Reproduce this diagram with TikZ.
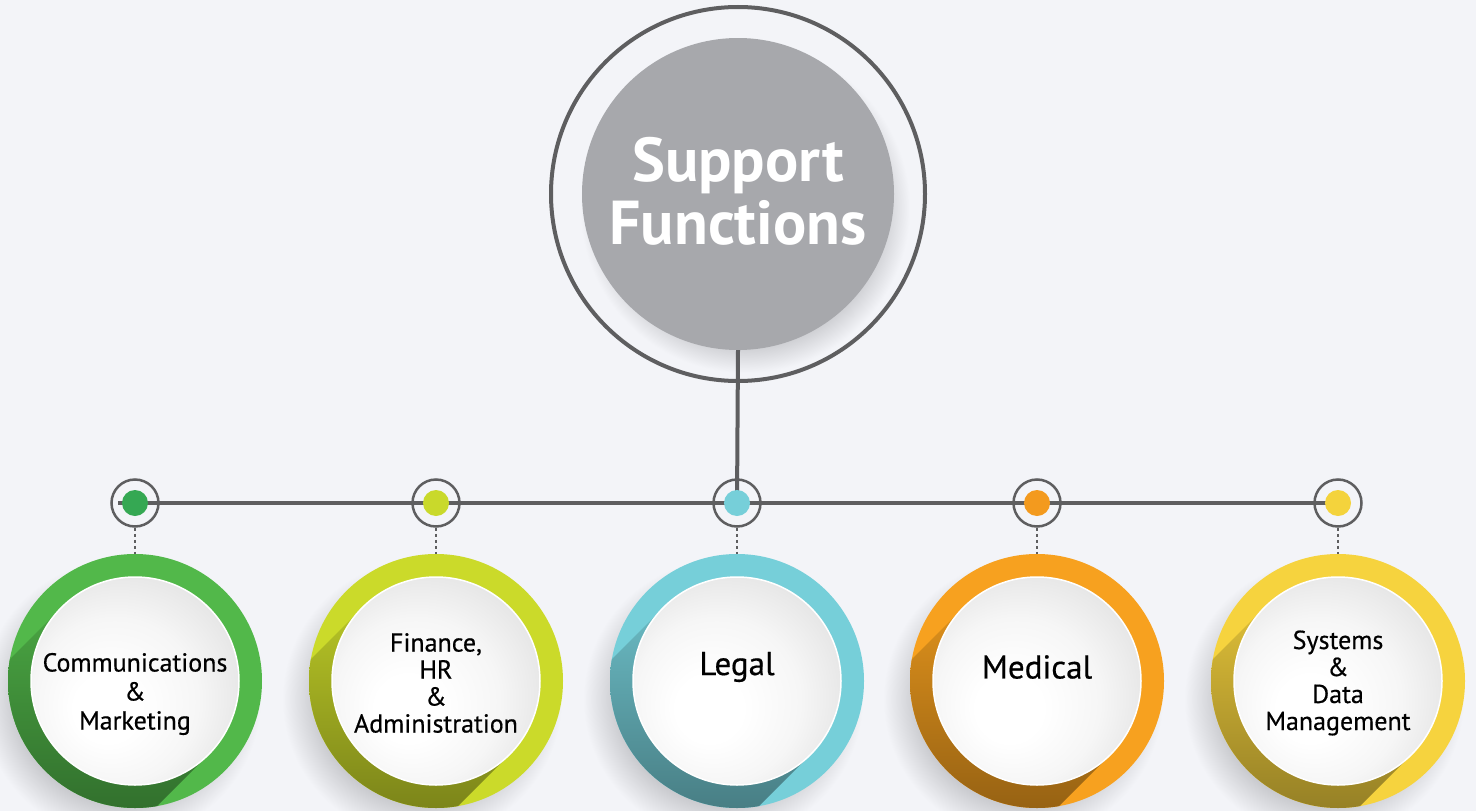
\documentclass[tikz,border=0pt]{standalone}
\usepackage{fontspec}
\setmainfont{PT Sans}
\newfontfamily\labelfont[FakeBold=0.5]{PT Sans}
\definecolor{bgcol}{HTML}{F3F4F8}
\definecolor{linecol}{HTML}{5E5E60}
\definecolor{hubgray}{HTML}{A7A8AC}
\definecolor{shadowgray}{HTML}{C4C5C9}
\definecolor{disc0}{HTML}{FFFFFF}
\definecolor{disc1}{HTML}{F6F6F6}
\definecolor{disc2}{HTML}{DCDCDC}
\definecolor{cgreen}{HTML}{52B84A}
\definecolor{cgreendot}{HTML}{35A853}
\definecolor{clime}{HTML}{CBDA2A}
\definecolor{climedot}{HTML}{C9D92B}
\definecolor{ccyan}{HTML}{76CFD9}
\definecolor{ccyandot}{HTML}{76CFD9}
\definecolor{corange}{HTML}{F7A11F}
\definecolor{corangedot}{HTML}{F39A1E}
\definecolor{cyellow}{HTML}{F6D33E}
\definecolor{cyellowdot}{HTML}{F4D33C}
\pgfdeclareradialshading{softshadow}{\pgfpoint{0bp}{0bp}}{color(0bp)=(shadowgray); color(18bp)=(shadowgray); color(25bp)=(bgcol); color(50bp)=(bgcol)}
\pgfdeclareradialshading{hubshadow}{\pgfpoint{0bp}{0bp}}{color(0bp)=(shadowgray); color(20bp)=(shadowgray); color(25bp)=(bgcol); color(50bp)=(bgcol)}
\pgfdeclareradialshading{discshade}{\pgfpoint{-8bp}{-8bp}}{color(0bp)=(disc0); color(8bp)=(disc0); color(20bp)=(disc1); color(36bp)=(disc2); color(50bp)=(disc2)}
\tikzset{
  hubdisc/.style={circle, fill=hubgray, minimum size=312pt, inner sep=0pt},
  hubring/.style={circle, draw=linecol, line width=4pt, minimum size=374pt, inner sep=0pt},
  hubtext/.style={text=white, font=\bfseries\fontsize{62}{63}\selectfont, align=center, inner sep=0pt},
  conn/.style={draw=linecol, line width=4pt},
  jring/.style={circle, draw=linecol, line width=2.5pt, minimum size=47pt, inner sep=0pt},
  jdot/.style={circle, minimum size=26pt, inner sep=0pt},
  dotline/.style={draw=linecol, line width=1.6pt, dash pattern=on 3pt off 3pt},
  bigring/.style={circle, minimum size=254pt, inner sep=0pt},
  innerdisc/.style={circle, minimum size=208pt, inner sep=0pt, draw=white, line width=1.5pt,
     shading=discshade},
  labeltext/.style={text=black, align=center, inner sep=0pt}
}
\begin{document}
\begin{tikzpicture}[x=1pt,y=-1pt]
\fill[bgcol] (0,0) rectangle (1476,811);
\useasboundingbox (0,0) rectangle (1476,811);

% hub
\shade[shading=hubshadow] (745,208) circle (165);
\node[hubring] (hubring) at (738,194) {};
\node[hubdisc] (hub) at (738,194) {};
\node[hubtext] (hubtxt) at (738,191) {Support\\Functions};

% junctions
\foreach \i/\x in {1/135,2/436,3/737,4/1037,5/1338}{
  \node[jring] (j\i) at (\x,503) {};
}
\draw[conn] (hub.south) -- (j3.center);
\draw[conn] ([xshift=-17pt]j1.center) -- (j5.center);

\foreach \i/\x/\col in {1/135/cgreen,2/436/clime,3/737/ccyan,4/1037/corange,5/1338/cyellow}{
  \node[jdot, fill=\col dot] (d\i) at (\x,503) {};
  % soft outer shadow
  \shade[shading=softshadow] (\x-14,699) circle (140);
  \node[bigring, fill=\col] (c\i) at (\x,681) {};
  \begin{scope}
    \clip (\x,681) circle (127);
    \shade[top color=\col!90!black, bottom color=\col!50!black]
      (\x-73.5,607.5) -- (\x-203.5,737.5) -- (\x-56.5,884.5) -- (\x+73.5,754.5) -- cycle;
  \end{scope}
  \node[innerdisc] (t\i) at (\x,681) {};
  \draw[dotline] (j\i.south) -- (c\i.north);
}

\node[labeltext, font=\labelfont\fontsize{26}{29}\selectfont] (l1) at (135,694) {Communications\\\&\\Marketing};
\node[labeltext, font=\labelfont\fontsize{26}{27}\selectfont] (l2) at (436,683) {Finance,\\HR\\\&\\Administration};
\node[labeltext, font=\labelfont\fontsize{33}{34}\selectfont] (l3) at (737,667) {Legal};
\node[labeltext, font=\labelfont\fontsize{33}{34}\selectfont] (l4) at (1037,667) {Medical};
\node[labeltext, font=\labelfont\fontsize{26}{27}\selectfont] (l5) at (1338,683) {Systems\\\&\\Data\\Management};
\end{tikzpicture}
\end{document}
